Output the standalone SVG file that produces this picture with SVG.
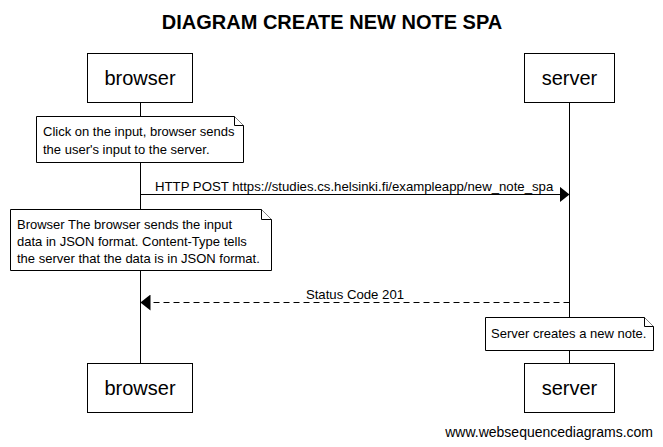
<svg xmlns="http://www.w3.org/2000/svg" width="663" height="447" viewBox="0 0 663 447">
<style>
text{font-family:"Liberation Sans",Arial,sans-serif;fill:#000}
.box{fill:#fff;stroke:#000;stroke-width:1}
.life{stroke:#000;stroke-width:1}
.note{fill:#fff;stroke:#000;stroke-width:1}
.actor{font-size:20px;text-anchor:middle}
.nt{font-size:13px}
.msg{font-size:13.2px}
</style>
<defs>
<marker id="ah" markerWidth="10" markerHeight="16" refX="10" refY="8" orient="auto" markerUnits="userSpaceOnUse">
<path d="M0,0 L10,8 L0,16 Z" fill="#000"/>
</marker>
</defs>
<rect width="663" height="447" fill="#fff"/>
<text x="332" y="29" text-anchor="middle" font-size="20" font-weight="bold">DIAGRAM CREATE NEW NOTE SPA</text>
<g id="lifelines">
<line class="life" x1="140.5" y1="102" x2="140.5" y2="363"/>
<line class="life" x1="569.5" y1="102" x2="569.5" y2="363"/>
</g>
<g id="browser-top"><rect class="box" x="87.5" y="53.5" width="105" height="49"/><text class="actor" x="140" y="85">browser</text></g>
<g id="server-top"><rect class="box" x="524.5" y="53.5" width="90" height="49"/><text class="actor" x="569.5" y="85">server</text></g>
<g id="browser-bottom"><rect class="box" x="87.5" y="363.5" width="105" height="49"/><text class="actor" x="140" y="395">browser</text></g>
<g id="server-bottom"><rect class="box" x="524.5" y="363.5" width="90" height="49"/><text class="actor" x="569.5" y="395">server</text></g>
<g id="note1">
<path class="note" d="M36.5,116.5 H234.5 L243.5,125.5 V162.5 H36.5 Z"/>
<path class="note" d="M234.5,116.5 V125.5 H243.5" fill="none"/>
<text class="nt" x="43" y="136">Click on the input, browser sends</text>
<text class="nt" x="43" y="154">the user's input to the server.</text>
</g>
<g id="note2">
<path class="note" d="M10.5,209.5 H261.5 L271.5,219.5 V270.5 H10.5 Z"/>
<path class="note" d="M261.5,209.5 V219.5 H271.5" fill="none"/>
<text class="nt" x="17" y="229">Browser The browser sends the input</text>
<text class="nt" x="17" y="246">data in JSON format. Content-Type tells</text>
<text class="nt" x="17" y="263">the server that the data is in JSON format.</text>
</g>
<g id="note3">
<path class="note" d="M485.5,317.5 H644.5 L653.5,326.5 V350.5 H485.5 Z"/>
<path class="note" d="M644.5,317.5 V326.5 H653.5" fill="none"/>
<text class="nt" x="491" y="338">Server creates a new note.</text>
</g>
<g id="connectors">
<line x1="140.5" y1="194.5" x2="569.5" y2="194.5" stroke="#000" marker-end="url(#ah)"/>
<text class="msg" x="155" y="191">HTTP POST https://studies.cs.helsinki.fi/exampleapp/new_note_spa</text>
<line x1="569.5" y1="302.5" x2="140.5" y2="302.5" stroke="#000" stroke-dasharray="6,4" marker-end="url(#ah)"/>
<text class="msg" x="355" y="299" text-anchor="middle">Status Code 201</text>
</g>
<text x="653" y="437" text-anchor="end" font-size="14">www.websequencediagrams.com</text>
</svg>
